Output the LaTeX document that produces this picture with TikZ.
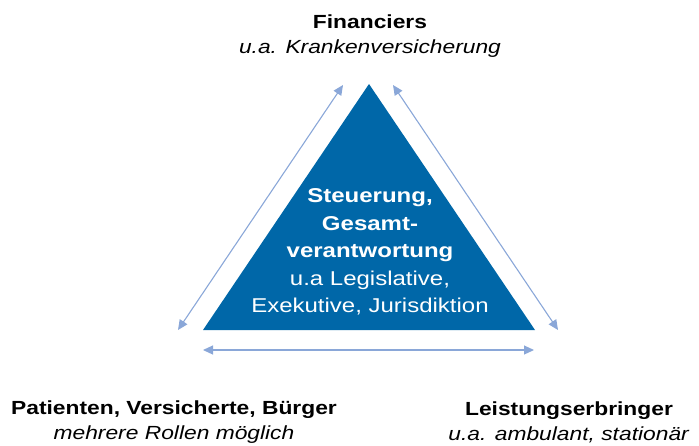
\documentclass[tikz,border=0pt]{standalone}
\usepackage{fontspec}
\setmainfont[FakeStretch=1.2]{Liberation Sans}
\usetikzlibrary{arrows.meta}
\definecolor{govblue}{HTML}{0067A8}
\definecolor{linkblue}{HTML}{8AA7D8}
\begin{document}
\begin{tikzpicture}[x=1pt,y=-1pt,
  actor/.style={align=center,font=\fontsize{19}{25}\selectfont,inner sep=0pt},
  link/.style={draw=linkblue,line width=1.1pt,
    {Triangle[length=10pt,width=9pt,fill=linkblue]}-{Triangle[length=10pt,width=9pt,fill=linkblue]}},
  core/.style={fill=govblue,draw=none}]
\useasboundingbox (0,0) rectangle (699,445);
% central triangle
\coordinate (apex) at (369,84);
\coordinate (bl) at (203,330);
\coordinate (br) at (535,330);
\fill[core] (apex) -- (br) -- (bl) -- cycle;
\node[align=center,text=white,inner sep=0pt,font=\fontsize{20}{27.5}\selectfont] (gov) at (370,252)
  {\textbf{Steuerung,}\\\textbf{Gesamt-}\\\textbf{verantwortung}\\u.a Legislative,\\Exekutive, Jurisdiktion};
% actors
\node[actor] (fin) at (370,36) {\textbf{Financiers}\\\textit{u.a. Krankenversicherung}};
\node[actor] (pat) at (174,422) {\textbf{Patienten, Versicherte, Bürger}\\\textit{mehrere Rollen möglich}};
\node[actor] (prov) at (569,422) {\textbf{Leistungserbringer}\\\textit{u.a. ambulant, stationär}};
% relation arrows
\coordinate (lA) at (178,330);
\coordinate (lB) at (343,85);
\coordinate (rA) at (393,85);
\coordinate (rB) at (558,330);
\coordinate (bA) at (203,350);
\coordinate (bB) at (534,350);
\draw[link] (lA) -- (lB);
\draw[link] (rA) -- (rB);
\draw[link] (bA) -- (bB);
\end{tikzpicture}
\end{document}
